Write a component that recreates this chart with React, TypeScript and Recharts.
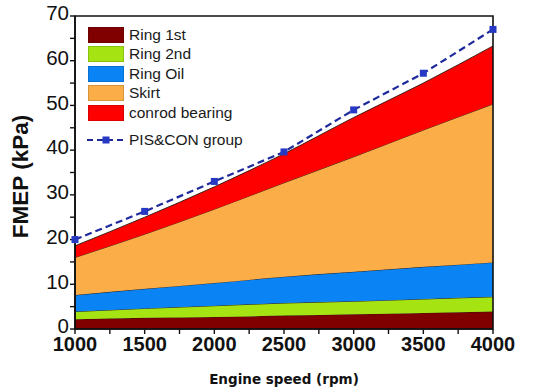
import React from 'react';
import {
  ComposedChart,
  Area,
  Line,
  XAxis,
  YAxis,
  Legend,
  ReferenceArea,
} from 'recharts';

// Engine speed (rpm)
const speeds = [1000, 1500, 2000, 2500, 3000, 3500, 4000];

// Friction mean effective pressure contributions (kPa), stacked bottom to top
const ring1st = [2.2, 2.5, 2.7, 3.0, 3.3, 3.6, 3.9];
const ring2nd = [1.7, 2.1, 2.5, 2.8, 2.9, 3.1, 3.3];
const ringOil = [3.7, 4.4, 5.1, 5.9, 6.6, 7.2, 7.7];
const skirt = [8.4, 12.2, 16.5, 21.0, 25.7, 30.6, 35.4];
const conrodBearing = [2.6, 3.8, 5.0, 6.5, 8.8, 10.5, 13.0];

// Total of the piston & conrod group
const pisConGroup = [20.0, 26.3, 33.0, 39.6, 49.0, 57.2, 67.0];

// Axis ticks
const xTicks = [1000, 1250, 1500, 1750, 2000, 2250, 2500, 2750, 3000, 3250, 3500, 3750, 4000];
const xLabelled = [1000, 1500, 2000, 2500, 3000, 3500, 4000];
const yTicks = [0, 5, 10, 15, 20, 25, 30, 35, 40, 45, 50, 55, 60, 65, 70];
const yLabelled = [0, 10, 20, 30, 40, 50, 60, 70];

const areaSeries = [
  { key: 'ring1st', name: 'Ring 1st', values: ring1st, color: '#800000' },
  { key: 'ring2nd', name: 'Ring 2nd', values: ring2nd, color: '#a6e312' },
  { key: 'ringOil', name: 'Ring Oil', values: ringOil, color: '#0a84f5' },
  { key: 'skirt', name: 'Skirt', values: skirt, color: '#fbad47' },
  { key: 'conrod', name: 'conrod bearing', values: conrodBearing, color: '#fe0000' },
];

const lineName = 'PIS&CON group';
const lineColor = '#1e2a9c';
const markerColor = '#2638c4';

const data = speeds.map((rpm, i) => {
  const row: Record<string, number> = { rpm, group: pisConGroup[i] };
  areaSeries.forEach((s) => {
    row[s.key] = s.values[i];
  });
  return row;
});

const SquareDot = (props: any) => {
  const { cx, cy, index } = props;
  if (cx == null || cy == null) return null;
  return <rect key={`sq-${index}`} x={cx - 3.5} y={cy - 3.5} width={7} height={7} fill={markerColor} />;
};

// Value labels on the FMEP axis, sitting a touch above their tick marks
const YTick = (props: any) => {
  const { x, y, payload } = props;
  const v = payload?.value;
  if (!yLabelled.includes(v)) return <g />;
  return (
    <text
      x={x}
      y={y - 3}
      dy="0.355em"
      textAnchor="end"
      fill="#111"
      fontSize={20.5}
      fontFamily='"Liberation Sans", Arial, sans-serif'
    >
      {v}
    </text>
  );
};

const LegendBox = () => (
  <div style={{ fontFamily: '"Liberation Sans", Arial, sans-serif', fontSize: 15.5, color: '#1a1a1a' }}>
    {areaSeries.map((s) => (
      <div key={s.key} style={{ display: 'flex', alignItems: 'center', height: 19.5 }}>
        <div
          style={{
            width: 36,
            height: 16,
            background: s.color,
            boxSizing: 'border-box',
            border: '1px solid rgba(0,0,0,0.15)',
            marginRight: 5,
          }}
        />
        <span style={{ lineHeight: '16px' }}>{s.name}</span>
      </div>
    ))}
    <div style={{ display: 'flex', alignItems: 'center', height: 20, marginTop: 7 }}>
      <svg width={40} height={10} style={{ marginRight: 3, marginLeft: -2 }}>
        <line x1={1} y1={5} x2={39} y2={5} stroke={lineColor} strokeWidth={2} strokeDasharray="6 4" />
        <rect x={16.5} y={1.5} width={7} height={7} fill={markerColor} />
      </svg>
      <span>{lineName}</span>
    </div>
  </div>
);

export default function App() {
  return (
    <div style={{ position: 'absolute', left: 0, top: 0, background: '#fff' }}>
      <ComposedChart
        width={540}
        height={391}
        data={data}
        margin={{ top: 16, right: 47, left: 0, bottom: 4 }}
      >
        <XAxis
          dataKey="rpm"
          type="number"
          domain={[1000, 4000]}
          ticks={xTicks}
          tickFormatter={(v: number) => (xLabelled.includes(v) ? String(v) : '')}
          interval={0}
          tickSize={5}
          tickMargin={3}
          height={58}
          axisLine={{ stroke: '#111', strokeWidth: 1.6 }}
          tickLine={{ stroke: '#111', strokeWidth: 1.4 }}
          tick={{
            fill: '#111',
            fontSize: 20,
            fontWeight: 700,
            fontFamily: '"Liberation Sans", Arial, sans-serif',
          }}
          label={{
            value: 'Engine speed (rpm)',
            position: 'insideBottom',
            offset: 3,
            style: {
              fill: '#111',
              fontSize: 13.5,
              fontWeight: 700,
              fontFamily: '"DejaVu Sans", Verdana, sans-serif',
            },
          }}
        />
        <YAxis
          type="number"
          domain={[0, 70]}
          ticks={yTicks}
          interval={0}
          width={75}
          tickSize={5}
          tickMargin={1}
          axisLine={{ stroke: '#111', strokeWidth: 1.6 }}
          tickLine={{ stroke: '#111', strokeWidth: 1.4 }}
          tick={YTick}
          label={{
            value: 'FMEP (kPa)',
            angle: -90,
            position: 'insideLeft',
            offset: 20,
            dy: 4,
            style: {
              textAnchor: 'middle',
              fill: '#111',
              fontSize: 22.5,
              fontWeight: 700,
              fontFamily: '"Liberation Sans", Arial, sans-serif',
            },
          }}
        />
        {areaSeries.map((s) => (
          <Area
            key={s.key}
            type="monotone"
            dataKey={s.key}
            name={s.name}
            stackId="fmep"
            fill={s.color}
            fillOpacity={1}
            stroke="#2a1a10"
            strokeWidth={0.9}
            isAnimationActive={false}
          />
        ))}
        <Line
          type="linear"
          dataKey="group"
          name={lineName}
          stroke={lineColor}
          strokeWidth={2.2}
          strokeDasharray="7 4"
          dot={SquareDot}
          activeDot={false}
          isAnimationActive={false}
        />
        <ReferenceArea
          x1={1000}
          x2={4000}
          y1={0}
          y2={70}
          fill="none"
          fillOpacity={0}
          stroke="#111"
          strokeWidth={1.6}
        />
        <Legend
          layout="vertical"
          verticalAlign="middle"
          align="center"
          wrapperStyle={{ left: 88, top: 25, width: 220 }}
          content={LegendBox}
        />
      </ComposedChart>
    </div>
  );
}
